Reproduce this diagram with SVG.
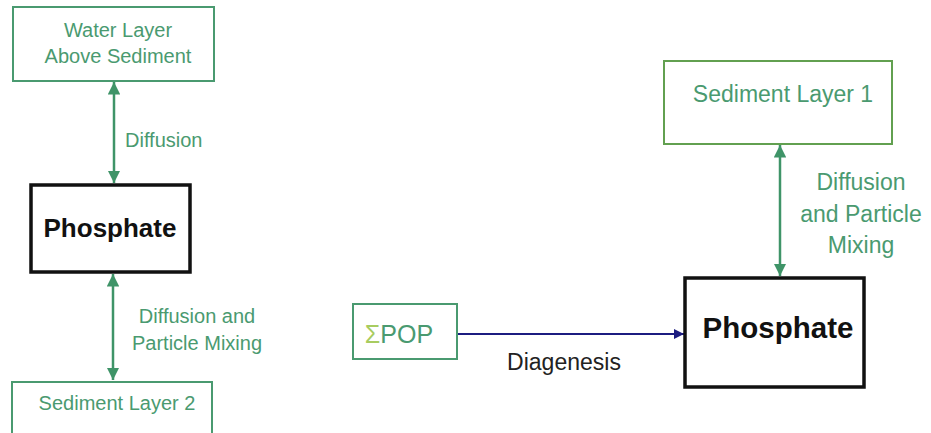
<svg xmlns="http://www.w3.org/2000/svg" width="931" height="433" viewBox="0 0 931 433">
<style>
text{font-family:"Liberation Sans",Arial,sans-serif}
.g{fill:#4a9a70}
.box{fill:#fff;stroke:#4a9a70;stroke-width:2}
.box1{fill:#fff;stroke:#62a050;stroke-width:2}
.ph{fill:#fff;stroke:#111;stroke-width:3.5}
.pt{font-weight:bold;fill:#111}
.gl{stroke:#3f9468;stroke-width:2.5;fill:none}
.bl{stroke:#1c1c80;stroke-width:2;fill:none}
</style>
<defs>
<marker id="ag" viewBox="0 0 10 10" refX="10" refY="5" markerWidth="5" markerHeight="5" orient="auto-start-reverse" markerUnits="strokeWidth">
<path d="M0,0 L10,5 L0,10 z" fill="#3f9468"/>
</marker>
<marker id="ab" viewBox="0 0 10 10" refX="10" refY="5" markerWidth="5" markerHeight="5" orient="auto" markerUnits="strokeWidth">
<path d="M0,0 L10,5 L0,10 z" fill="#1c1c80"/>
</marker>
</defs>
<rect width="931" height="433" fill="#fff"/>
<g id="connectors">
<line class="gl" x1="114" y1="82" x2="114" y2="183" marker-start="url(#ag)" marker-end="url(#ag)"/>
<line class="gl" x1="113" y1="274" x2="113" y2="380" marker-start="url(#ag)" marker-end="url(#ag)"/>
<line class="gl" x1="780" y1="145" x2="780" y2="276" marker-start="url(#ag)" marker-end="url(#ag)"/>
<line class="bl" x1="457" y1="334" x2="684" y2="334" marker-end="url(#ab)"/>
<text class="g" x="125" y="147" font-size="20">Diffusion</text>
<text class="g" x="197" y="323" font-size="20" text-anchor="middle">Diffusion and</text>
<text class="g" x="197" y="350" font-size="20" text-anchor="middle">Particle Mixing</text>
<text class="g" x="861" y="190" font-size="23" text-anchor="middle">Diffusion</text>
<text class="g" x="861" y="222" font-size="23" text-anchor="middle">and Particle</text>
<text class="g" x="861" y="253" font-size="23" text-anchor="middle">Mixing</text>
<text x="564" y="370" font-size="23" fill="#222" text-anchor="middle">Diagenesis</text>
</g>
<g id="water">
<rect class="box" x="13" y="7" width="201" height="74"/>
<text class="g" x="118" y="37" font-size="20" text-anchor="middle">Water Layer</text>
<text class="g" x="118" y="63" font-size="20" text-anchor="middle">Above Sediment</text>
</g>
<g id="phosphate1">
<rect class="ph" x="31" y="185" width="159" height="87"/>
<text class="pt" x="110" y="237" font-size="26" text-anchor="middle">Phosphate</text>
</g>
<g id="sediment2">
<rect class="box" x="12" y="382" width="200" height="60"/>
<text class="g" x="117" y="410" font-size="20" text-anchor="middle">Sediment Layer 2</text>
</g>
<g id="sediment1">
<rect class="box1" x="664" y="61" width="228" height="83"/>
<text class="g" x="783" y="102" font-size="23" text-anchor="middle">Sediment Layer 1</text>
</g>
<g id="pop">
<rect class="box" x="353" y="304" width="104" height="55"/>
<text x="399" y="343" font-size="25" text-anchor="middle"><tspan fill="#a8cc60">Σ</tspan><tspan class="g">POP</tspan></text>
</g>
<g id="phosphate2">
<rect class="ph" x="685" y="278" width="179" height="109"/>
<text class="pt" x="778" y="338" font-size="29.5" text-anchor="middle">Phosphate</text>
</g>
</svg>
